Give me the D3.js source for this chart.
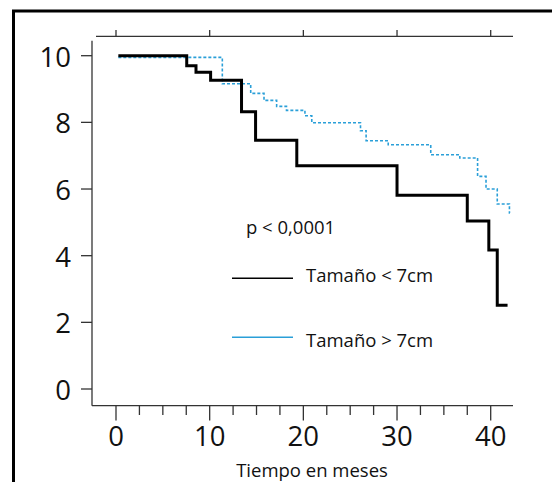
<!DOCTYPE html>
<html>
<head>
<meta charset="UTF-8">
<script src="https://d3js.org/d3.v7.min.js"></script>
<style>
  body { margin: 0; background: #fff; }
  text { font-family: "Open Sans", "Noto Sans", sans-serif; fill: #111; }
</style>
</head>
<body>
<svg id="canvas"></svg>
<script>
width = 552;
height = 482;

// survival curves, months vs value
smallT = [0.25, 7.55, 8.54, 10.1, 13.4, 14.9, 19.3, 30.0, 37.5, 39.8, 40.7, 41.8];
smallV = [10, 9.7, 9.5, 9.26, 8.32, 7.46, 6.7, 5.81, 5.04, 4.17, 2.51, 2.51];

bigT = [0.25, 11.35, 14.38, 15.8, 17.15, 18.2, 20.17, 20.9, 26.1, 26.7, 29.06, 33.6, 36.7, 38.6, 39.5, 40.7, 42.0, 42.05];
bigV = [9.95, 9.16, 8.87, 8.66, 8.48, 8.36, 8.2, 7.99, 7.75, 7.45, 7.33, 7.03, 6.93, 6.38, 6.0, 5.55, 5.28, 5.28];

xTicks = [0, 10, 20, 30, 40];
xMinor = [2.5, 5, 7.5, 12.5, 15, 17.5, 22.5, 25, 27.5, 32.5, 35, 37.5];
yTicks = [0, 2, 4, 6, 8, 10];
legendLabels = ["Tamaño < 7cm", "Tamaño > 7cm"];
pLabel = "p < 0,0001";
xTitle = "Tiempo en meses";

canvas = d3.select("#canvas").attr("width", width).attr("height", height);

x = d3.scaleLinear().domain([0, 40]).range([116, 490.7]);
y = d3.scaleLinear().domain([0, 10]).range([389, 55.7]);

// outer frame (top + left only)
canvas.append("path")
    .attr("d", "M13.5,482 V11 H552")
    .attr("fill", "none").attr("stroke", "#000").attr("stroke-width", 3);

axisColor = "#333";

// y axis
canvas.append("line").attr("x1", 92).attr("x2", 92).attr("y1", 40.7).attr("y2", 405.7)
    .attr("stroke", axisColor).attr("stroke-width", 1.3);
canvas.selectAll(".ytick").data(yTicks).enter().append("line")
    .attr("x1", 81).attr("x2", 92)
    .attr("y1", d => y(d)).attr("y2", d => y(d))
    .attr("stroke", axisColor).attr("stroke-width", 1.3);
canvas.selectAll(".ylab").data(yTicks).enter().append("text")
    .attr("x", 71).attr("y", d => y(d) + 11)
    .attr("text-anchor", "end").attr("font-size", 27.5)
    .text(d => d);

// bottom x axis
canvas.append("line").attr("x1", 92).attr("x2", 513).attr("y1", 405.7).attr("y2", 405.7)
    .attr("stroke", axisColor).attr("stroke-width", 1.3);
canvas.selectAll(".xtick").data(xTicks).enter().append("line")
    .attr("x1", d => x(d)).attr("x2", d => x(d))
    .attr("y1", 405.7).attr("y2", 420.5)
    .attr("stroke", axisColor).attr("stroke-width", 1.3);
canvas.selectAll(".xminor").data(xMinor).enter().append("line")
    .attr("x1", d => x(d)).attr("x2", d => x(d))
    .attr("y1", 405.7).attr("y2", 415)
    .attr("stroke", axisColor).attr("stroke-width", 1.3);
canvas.selectAll(".xlab").data(xTicks).enter().append("text")
    .attr("x", d => x(d)).attr("y", 446)
    .attr("text-anchor", "middle").attr("font-size", 27.5)
    .text(d => d);
canvas.append("text").attr("x", 312).attr("y", 477)
    .attr("text-anchor", "middle").attr("font-size", 18.5)
    .text(xTitle);

// top axis
canvas.append("line").attr("x1", 96).attr("x2", 513).attr("y1", 36.3).attr("y2", 36.3)
    .attr("stroke", axisColor).attr("stroke-width", 1.3);
canvas.selectAll(".ttick").data(xTicks).enter().append("line")
    .attr("x1", d => x(d)).attr("x2", d => x(d))
    .attr("y1", 30).attr("y2", 36.3)
    .attr("stroke", axisColor).attr("stroke-width", 1.3);

line = d3.line().x(d => x(d[0])).y(d => y(d[1])).curve(d3.curveStepAfter);

canvas.append("path")
    .datum(d3.zip(bigT, bigV))
    .attr("d", line)
    .attr("fill", "none").attr("stroke", "#2a9fd8").attr("stroke-width", 1.6)
    .attr("stroke-dasharray", "3,2");

canvas.append("path")
    .datum(d3.zip(smallT, smallV))
    .attr("d", line)
    .attr("fill", "none").attr("stroke", "#000").attr("stroke-width", 3);

// legend
canvas.append("text").attr("x", 246).attr("y", 234).attr("font-size", 18.5).text(pLabel);
canvas.append("line").attr("x1", 232).attr("x2", 293).attr("y1", 278.3).attr("y2", 278.3)
    .attr("stroke", "#000").attr("stroke-width", 1.6);
canvas.append("text").attr("x", 306).attr("y", 281.5).attr("font-size", 18.5).text(legendLabels[0]);
canvas.append("line").attr("x1", 232).attr("x2", 293).attr("y1", 337.3).attr("y2", 337.3)
    .attr("stroke", "#2a9fd8").attr("stroke-width", 1.6);
canvas.append("text").attr("x", 306).attr("y", 346.5).attr("font-size", 18.5).text(legendLabels[1]);
</script>
</body>
</html>
